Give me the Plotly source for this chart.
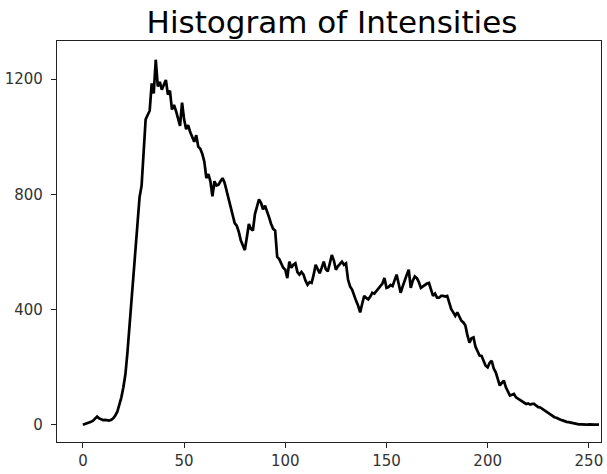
import plotly.graph_objs as go

# intensity bins 0..255
intensity = list(range(256))

# pixel counts per intensity
counts = [
    0, 2, 5, 8, 10, 14, 20, 28, 22, 18, 16, 17, 15, 14, 17, 22,
    32, 45, 70, 95, 130, 175, 250, 340,
    436, 520, 600, 700, 790, 830, 950, 1060,
    1075, 1090, 1185, 1150, 1267, 1174, 1190, 1163,
    1180, 1197, 1146, 1160, 1094, 1110, 1089, 1060,
    1037, 1118, 1060, 1026, 1040, 1016, 1000, 982,
    1005, 965, 958, 940, 913, 856, 870, 845,
    793, 845, 830, 833, 845, 856, 840, 810,
    788, 750, 719, 700, 691, 670, 640, 620,
    606, 650, 697, 680, 674, 731, 760, 782,
    770, 748, 760, 742, 720, 697, 680, 674,
    583, 575, 560, 545, 538, 509, 566, 545,
    555, 560, 530, 521, 530, 521, 500, 486,
    495, 492, 520, 555, 540, 526, 545, 566,
    540, 532, 560, 589, 570, 538, 550, 560,
    566, 555, 560, 504, 480, 469, 447, 430,
    413, 390, 420, 447, 440, 435, 445, 458,
    455, 464, 470, 480, 490, 509, 475, 478,
    485, 481, 500, 521, 490, 458, 480, 504,
    520, 538, 475, 500, 515, 509, 495, 475,
    480, 486, 490, 492, 470, 447, 455, 441,
    441, 447, 447, 445, 447, 420, 401, 390,
    378, 390, 375, 361, 355, 344, 310, 285,
    300, 303, 270, 255, 240, 239, 220, 205,
    199, 215, 222, 195, 182, 160, 136, 145,
    153, 130, 115, 101, 104, 107, 95, 90,
    84, 80, 75, 72, 74, 70, 72, 72,
    66, 61, 60, 55, 48, 44, 40, 35,
    30, 26, 24, 20, 17, 15, 12, 10,
    9, 7, 5, 3, 2, 1, 1, 0,
    0, 0, 1, 0, 0, 0, 0, 0,
]

x_ticks = [0, 50, 100, 150, 200, 250]
y_ticks = [0, 400, 800, 1200]

trace = go.Scatter(
    x=intensity,
    y=counts,
    mode='lines',
    line=dict(color='black', width=2.7),
    showlegend=False)

axis_common = dict(
    showline=True,
    linecolor='#222',
    linewidth=1.3,
    mirror=True,
    showgrid=False,
    zeroline=False,
    ticks='outside',
    ticklen=5,
    tickcolor='#222',
    tickfont=dict(family='DejaVu Sans', size=15, color='#333'),
)

layout = go.Layout(
    width=607,
    height=474,
    margin=dict(l=57, r=4, t=41, b=26),
    paper_bgcolor='white',
    plot_bgcolor='white',
    title=dict(
        text='Histogram of Intensities',
        x=0.547, xanchor='center',
        y=0.954, yanchor='middle',
        font=dict(family='DejaVu Sans', size=31, color='black')),
    xaxis=dict(axis_common, range=[-12.8, 256], tickvals=x_ticks),
    yaxis=dict(axis_common, range=[-60, 1332], tickvals=y_ticks,
               ticklabelstandoff=5),
)

fig = go.Figure(data=[trace], layout=layout)
# drop the default 8px body margin so the figure fills the window
fig.write_html("out.html",
               config={'displayModeBar': False},
               post_script="document.body.style.margin='0';document.body.style.overflow='hidden';")
